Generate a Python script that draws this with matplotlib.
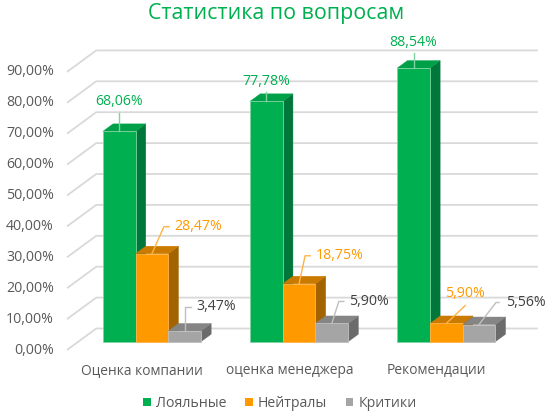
import numpy as np
import matplotlib
matplotlib.use("Agg")
import matplotlib.pyplot as plt
from matplotlib.patches import Polygon, Patch

plt.rcParams['font.family']=['Open Sans','DejaVu Sans']

# data
categories=["Оценка компании","оценка менеджера","Рекомендации"]
series=["Лояльные","Нейтралы","Критики"]
values=[
    [68.06,77.78,88.54],  # Лояльные
    [28.47,18.75,5.90],   # Нейтралы
    [3.47,5.90,5.56],     # Критики
]
yticks=[0,10,20,30,40,50,60,70,80,90]
title="Статистика по вопросам"

# styles: front, top, side, label, leader
colors=[
    ("#00B050","#00A049","#00773A","#00B050","#7FD3A2"),
    ("#FF9900","#CB7A00","#A36300","#FF9900","#FFB347"),
    ("#A5A5A5","#858585","#6B6B6B","#404040","#BFBFBF"),
]
# label placement per bar, in pixels from the bar's front-top centre:
# (elbow dx, elbow dy, end dx, text dx, text dy, style)
label_layout=[
    [(0,-18,0,0,-30,"up"),(0,-9,0,0,-20,"up"),(0,-15,0,0,-26,"up")],
    [(12,-27,17,22,-27,"side"),(6,-28,11,17,-28,"side"),(19,-18,19,19,-30,"up")],
    [(0,-24,6,12,-24,"side"),(7,-22,12,17,-22,"side"),(17,-22,20,27,-22,"side")],
]

W,H=557,416
PXX=147.2   # px per category
PXY=3.09    # px per percent
DXR=1.36    # horizontal shift per vertical px of depth
BAR_D0=8.3/PXY
BAR_D1=15.8/PXY
WALL_D=21.5/PXY
bw=2/9

fig=plt.figure(figsize=(W/100,H/100),dpi=100)
ax=fig.add_axes([67/W,(H-350)/H,3*PXX/W,100*PXY/H])
ax.set_xlim(-0.5,2.5)
ax.set_ylim(0,100)
ax.axis("off")

def P(x,y,d):
    # point at depth d (in percent units of vertical shift)
    return (x+d*PXY*DXR/PXX,y+d)

grid_c="#D9D9D9"
for t in yticks:
    x0,y0=P(-0.5,t,0)
    x1,y1=P(-0.5,t,WALL_D)
    x2,y2=P(2.5,t,WALL_D)
    ax.plot([x0,x1,x2],[y0,y1,y2],color=grid_c,lw=1.3,clip_on=False,zorder=1,solid_capstyle="butt")
    ax.text(-0.5-13/PXX,t,f"{t:.2f}%".replace(".",","),ha="right",va="center",
            fontsize=10.2,color="#595959")

for i,cat in enumerate(categories):
    ax.text(i+1.5/PXX,-20.7/PXY,cat,ha="center",va="center",fontsize=9.9,color="#595959")
    for s in range(len(series)):
        v=values[s][i]
        xl=i+(s-1.5)*bw
        xr=xl+bw
        fc,tc,sc,lc,ldc=colors[s]
        side=[P(xr,0,BAR_D0),P(xr,0,BAR_D1),P(xr,v,BAR_D1),P(xr,v,BAR_D0)]
        top=[P(xl,v,BAR_D0),P(xr,v,BAR_D0),P(xr,v,BAR_D1),P(xl,v,BAR_D1)]
        front=[P(xl,0,BAR_D0),P(xr,0,BAR_D0),P(xr,v,BAR_D0),P(xl,v,BAR_D0)]
        z=3+i*3+s
        ax.add_patch(Polygon(side,closed=True,fc=sc,ec=sc,lw=0.3,zorder=z,clip_on=False))
        ax.add_patch(Polygon(top,closed=True,fc=tc,ec=tc,lw=0.3,zorder=z,clip_on=False))
        ax.add_patch(Polygon(front,closed=True,fc=fc,ec=ldc,lw=0.6,zorder=z,clip_on=False))
        # value label with leader line
        ax0,ay0=P(xl+bw/2,v,BAR_D0)
        ex,ey,endx,tx,ty,kind=label_layout[s][i]
        lx=[ax0,ax0+ex/PXX,ax0+endx/PXX]
        ly=[ay0,ay0-ey/PXY,ay0-ey/PXY]
        ax.plot(lx,ly,color=ldc,lw=1.0,zorder=20,clip_on=False)
        txt=f"{v:.2f}%".replace(".",",")
        if kind=="up":
            ax.text(ax0+tx/PXX,ay0-ty/PXY,txt,ha="center",va="center",fontsize=10.2,color=lc,zorder=21)
        else:
            ax.text(ax0+tx/PXX,ay0-ty/PXY,txt,ha="left",va="center",fontsize=10.2,color=lc,zorder=21)

fig.text(276/W,1-13/H,title,ha="center",va="center",fontsize=15.4,color="#00B050")

handles=[Patch(facecolor=c[0],edgecolor="none") for c in colors]
fig.legend(handles,series,loc="center",bbox_to_anchor=(280/W,1-403.5/H),ncol=3,frameon=False,
           fontsize=10.2,labelcolor="#595959",handlelength=0.55,handleheight=0.55,
           handletextpad=0.35,columnspacing=1.3)

fig.savefig("out.png",dpi=100)
